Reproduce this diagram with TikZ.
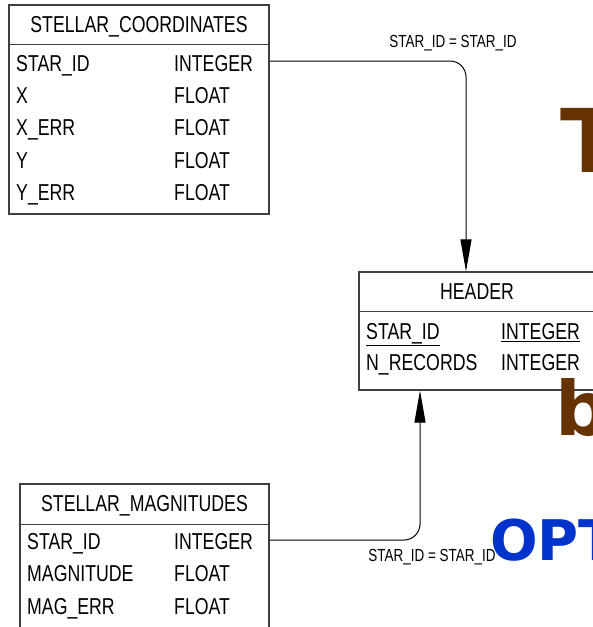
\documentclass[tikz,border=0pt]{standalone}
\usepackage{fontspec}
\setmainfont{Liberation Sans}[FakeStretch=0.77]
\newfontfamily\bigletters{DejaVu Sans}
\usetikzlibrary{arrows.meta}
\definecolor{titlebrown}{HTML}{663300}
\definecolor{titleblue}{HTML}{0033CC}

\begin{document}
\begin{tikzpicture}[x=1pt, y=-1pt,
    table_box/.style = {rectangle, draw=black!75, line width=1.2pt,
                        fill=white, inner sep=0pt},
    table_line/.style = {draw=black!75, line width=1.2pt},
    table_title/.style = {font=\fontsize{23}{26}\selectfont, inner sep=0pt,
                          text height=16.5pt, text depth=0pt},
    field/.style = {font=\fontsize{23}{26}\selectfont, anchor=west,
                    inner sep=0pt, text height=16.5pt, text depth=0pt},
    link/.style = {draw=black, line width=1pt, rounded corners=16pt,
                   -{Triangle[length=32pt, width=11pt]}},
    link_label/.style = {font=\fontsize{17.5}{20}\selectfont, inner sep=0pt}]

    \clip (0,0) rectangle (593,627);
    \fill[white] (0,0) rectangle (593,627);

    % STELLAR_COORDINATES table (top left)
    \node[table_box, minimum width=260pt, minimum height=209pt]
          (Coord_Box) at (139,109.5) {};
    \draw[table_line] ([yshift=-40pt]Coord_Box.north west) -- ([yshift=-40pt]Coord_Box.north east);
    \node[table_title] (Coord_Title) at ([yshift=-20pt]Coord_Box.north) {STELLAR\_COORDINATES};
    \foreach \fname/\ftype [count=\i] in {STAR\_ID/INTEGER, X/FLOAT, X\_ERR/FLOAT,
                                           Y/FLOAT, Y\_ERR/FLOAT} {
        \node[field] (Coord_Name_\i) at (16,{63+32.25*(\i-1)}) {\fname};
        \node[field] (Coord_Type_\i) at (174,{63+32.25*(\i-1)}) {\ftype};
    }

    % HEADER table (middle right)
    \node[table_box, minimum width=236pt, minimum height=118pt]
          (Header_Box) at (477,331) {};
    \draw[table_line] ([yshift=-40pt]Header_Box.north west) -- ([yshift=-40pt]Header_Box.north east);
    \node[table_title] (Header_Title) at ([yshift=-20pt]Header_Box.north) {HEADER};
    \node[field] (Header_Name_1) at (366,331) {\underline{STAR\_ID}};
    \node[field] (Header_Type_1) at (501,331) {\underline{INTEGER}};
    \node[field] (Header_Name_2) at (366,362) {N\_RECORDS};
    \node[field] (Header_Type_2) at (501,362) {INTEGER};

    % STELLAR_MAGNITUDES table (bottom left)
    \node[table_box, minimum width=249pt, minimum height=170pt]
          (Mag_Box) at (144.5,569) {};
    \draw[table_line] ([yshift=-41pt]Mag_Box.north west) -- ([yshift=-41pt]Mag_Box.north east);
    \node[table_title] (Mag_Title) at ([yshift=-20pt]Mag_Box.north) {STELLAR\_MAGNITUDES};
    \foreach \fname/\ftype [count=\i] in {STAR\_ID/INTEGER, MAGNITUDE/FLOAT,
                                           MAG\_ERR/FLOAT} {
        \node[field] (Mag_Name_\i) at (27,{541+32.5*(\i-1)}) {\fname};
        \node[field] (Mag_Type_\i) at (174,{541+32.5*(\i-1)}) {\ftype};
    }

    % relations
    \coordinate (Header_In_Top) at ([xshift=-11pt]Header_Box.north);
    \coordinate (Header_In_Bottom) at ([xshift=-57pt]Header_Box.south);
    \draw[link] ([yshift=2pt]Coord_Box.east |- Coord_Name_1) -| (Header_In_Top);
    \draw[link] ([yshift=1pt]Mag_Box.east |- Mag_Name_1) -| (Header_In_Bottom);
    \node[link_label] (Coord_Link_Label) at (453,43) {STAR\_ID = STAR\_ID};
    \node[link_label] (Mag_Link_Label) at (432,557) {STAR\_ID = STAR\_ID};

    % big letters at the right edge
    \node[anchor=base west, inner sep=0pt, text=titlebrown,
          font=\bigletters\bfseries\fontsize{88}{90}\selectfont] (Big_T) at (560,172) {T};
    \node[anchor=base west, inner sep=0pt, text=titlebrown,
          font=\bigletters\bfseries\fontsize{75}{78}\selectfont] (Big_b) at (555,435) {b};
    \node[anchor=base west, inner sep=0pt, text=titleblue,
          font=\bigletters\bfseries\fontsize{56}{60}\selectfont] (Big_OPT) at (490,560) {OPT};

\end{tikzpicture}
\end{document}
